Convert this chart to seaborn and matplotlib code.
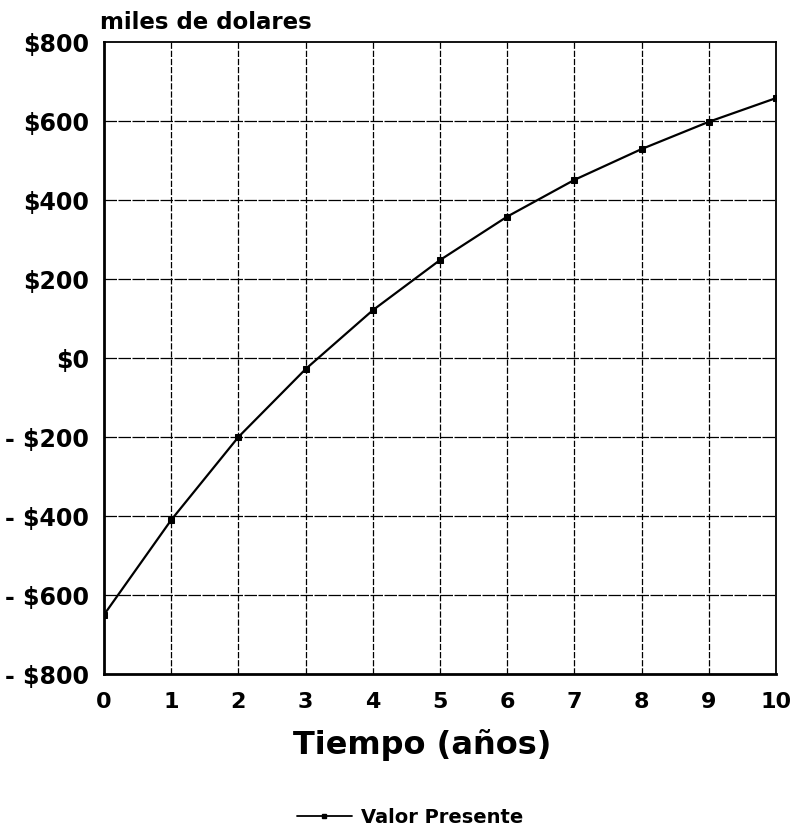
import matplotlib
matplotlib.use("Agg")
import matplotlib.pyplot as plt
import seaborn as sns
import pandas as pd

# Present value over time (thousands of dollars)
years = [0, 1, 2, 3, 4, 5, 6, 7, 8, 9, 10]
present_value = [-650, -410, -200, -28, 121, 248, 358, 451, 529, 598, 658]
y_ticks = [-800, -600, -400, -200, 0, 200, 400, 600, 800]
y_tick_labels = ["- $800", "- $600", "- $400", "- $200", "$0", "$200", "$400", "$600", "$800"]
series_name = "Valor Presente"

df = pd.DataFrame({"Tiempo": years, "Valor": present_value, "Serie": series_name})

sns.set_style("white")
plt.rcParams["font.family"] = ["DejaVu Sans"]
plt.rcParams["font.weight"] = "bold"
plt.rcParams["text.color"] = "black"
plt.rcParams["xtick.color"] = "black"
plt.rcParams["ytick.color"] = "black"

fig = plt.figure(figsize=(7.97, 8.35), dpi=100)
ax = fig.add_axes([0.1305, 0.1928, 0.8432, 0.7569])

sns.lineplot(data=df, x="Tiempo", y="Valor", ax=ax, color="black",
             linewidth=1.6, marker="s", markersize=4.5, markeredgecolor="black",
             legend=False, zorder=3)

ax.set_xlim(0, 10)
ax.set_ylim(-800, 800)
ax.set_xticks(years)
ax.set_xticklabels([str(y) for y in years], fontsize=16, fontweight="bold")
ax.set_yticks(y_ticks)
ax.set_yticklabels(y_tick_labels, fontsize=17, fontweight="bold")
ax.tick_params(axis="x", length=0, pad=13, labelcolor="black")
ax.tick_params(axis="y", length=0, pad=11, labelcolor="black")

# dashed reference grid
for yv in y_ticks[1:-1]:
    ax.axhline(yv, color="black", linewidth=0.9, linestyle=(0, (10, 1.2)), zorder=1)
for xv in years[1:-1]:
    ax.axvline(xv, color="black", linewidth=0.9, linestyle=(0, (5, 1.5)), zorder=1)

for side in ["left", "bottom", "top", "right"]:
    ax.spines[side].set_visible(True)
    ax.spines[side].set_color("black")
ax.spines["left"].set_linewidth(2.0)
ax.spines["bottom"].set_linewidth(2.0)
ax.spines["top"].set_linewidth(1.3)
ax.spines["right"].set_linewidth(1.3)

ax.set_xlabel("")
ax.set_ylabel("")
fig.text(0.53, 0.108, "Tiempo (años)", fontsize=23, fontweight="bold",
         ha="center", va="center", color="black")
ax.text(-0.006, 1.013, "miles de dolares", transform=ax.transAxes, fontsize=16.5,
        fontweight="bold", ha="left", va="bottom", color="black")

# legend below the axes
handle = plt.Line2D([], [], color="black", linewidth=1.3, marker="s", markersize=3.5)
leg = fig.legend([handle], [series_name], loc="center", bbox_to_anchor=(0.515, 0.021),
                 frameon=False, handlelength=2.8, handletextpad=0.5,
                 prop={"weight": "bold", "size": 14})
for t in leg.get_texts():
    t.set_color("black")

fig.savefig("out.png", dpi=100)
